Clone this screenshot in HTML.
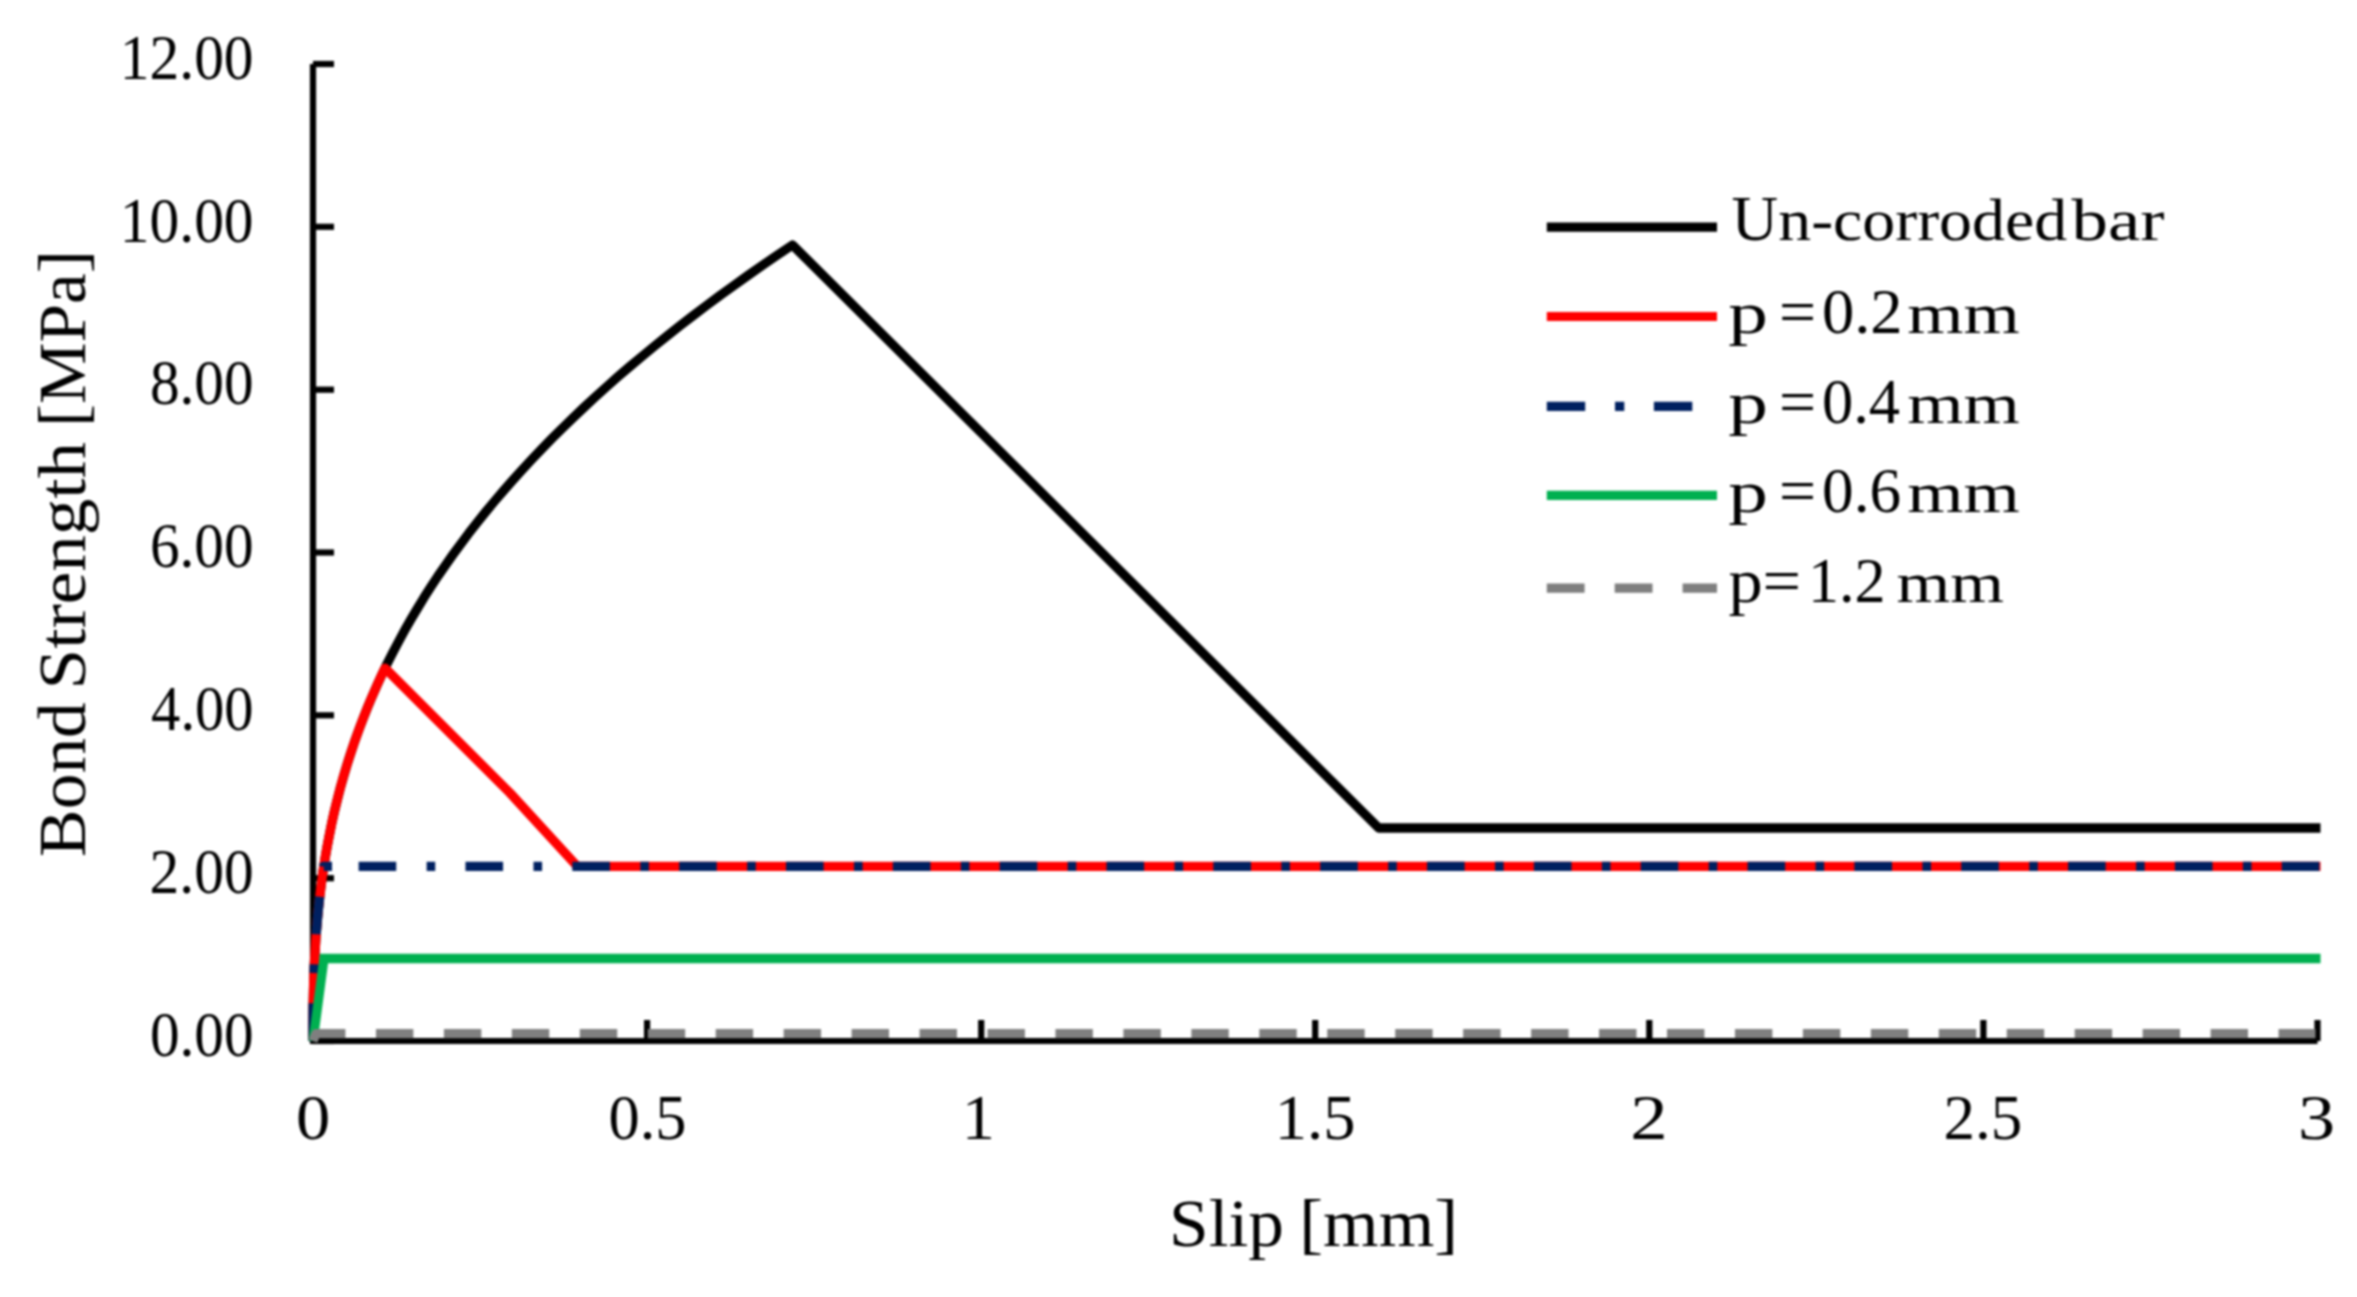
<!DOCTYPE html>
<html lang="en"><head><meta charset="utf-8"><title>Bond strength versus slip</title>
<style>html,body{margin:0;padding:0;background:#fff}svg{display:block;filter:blur(0.8px)}text{font-family:"Liberation Serif","DejaVu Serif",serif;fill:#000}</style>
</head><body>
<svg width="2357" height="1297" viewBox="0 0 2357 1297">
<rect width="2357" height="1297" fill="#fff"/>
<g stroke="#000" stroke-width="6.2" fill="none" stroke-linecap="butt">
<path d="M313.0,64.0 V1044.1"/>
<path d="M313.0,1041.0 H2317.5"/>
<path d="M313.0,1041.0 H334.0"/>
<path d="M313.0,878.2 H334.0"/>
<path d="M313.0,715.3 H334.0"/>
<path d="M313.0,552.5 H334.0"/>
<path d="M313.0,389.7 H334.0"/>
<path d="M313.0,226.8 H334.0"/>
<path d="M313.0,64.0 H334.0"/>
<path d="M647.1,1041.0 V1020.0"/>
<path d="M981.2,1041.0 V1020.0"/>
<path d="M1315.2,1041.0 V1020.0"/>
<path d="M1649.3,1041.0 V1020.0"/>
<path d="M1983.4,1041.0 V1020.0"/>
<path d="M2317.5,1041.0 V1020.0"/>
</g>
<g fill="none" stroke-width="9.3" stroke-linejoin="round" stroke-linecap="butt">
<path stroke="#000000" d="M313.0,1041.0 L313.0,1022.1 L313.2,1006.2 L313.5,991.2 L313.9,976.9 L314.4,963.0 L315.2,949.4 L316.0,936.1 L317.1,923.0 L318.3,910.1 L319.6,897.4 L321.2,884.8 L322.9,872.4 L324.8,860.1 L326.9,847.9 L329.2,835.8 L331.6,823.8 L334.3,811.9 L337.2,800.1 L340.2,788.3 L343.5,776.7 L346.9,765.1 L350.6,753.5 L354.4,742.1 L358.5,730.7 L362.8,719.3 L367.3,708.0 L372.0,696.8 L376.9,685.6 L382.0,674.4 L387.3,663.3 L392.9,652.3 L398.7,641.3 L404.7,630.3 L410.9,619.4 L417.4,608.5 L424.0,597.6 L430.9,586.8 L438.0,576.0 L445.4,565.3 L453.0,554.5 L460.8,543.9 L468.8,533.2 L477.1,522.6 L485.6,512.0 L494.4,501.4 L503.4,490.9 L512.6,480.4 L522.1,469.9 L531.8,459.4 L541.7,449.0 L551.9,438.6 L562.3,428.2 L573.0,417.8 L583.9,407.5 L595.1,397.2 L606.5,386.9 L618.1,376.6 L630.0,366.4 L642.2,356.2 L654.6,346.0 L667.2,335.8 L680.1,325.6 L693.3,315.5 L706.7,305.4 L720.3,295.2 L734.3,285.2 L748.4,275.1 L762.9,265.0 L777.5,255.0 L792.5,245.0 L1378.7,828.0 L2320.5,828.0"/>
<path stroke="#FF0000" d="M313.0,1041.0 L313.0,1026.5 L313.1,1014.3 L313.2,1002.8 L313.5,991.8 L313.7,981.2 L314.1,970.8 L314.6,960.6 L315.1,950.5 L315.7,940.6 L316.4,930.9 L317.2,921.3 L318.1,911.7 L319.1,902.3 L320.2,893.0 L321.3,883.7 L322.6,874.5 L324.0,865.4 L325.4,856.3 L327.0,847.3 L328.7,838.4 L330.5,829.5 L332.3,820.6 L334.3,811.8 L336.4,803.1 L338.6,794.4 L340.9,785.7 L343.3,777.1 L345.9,768.5 L348.5,760.0 L351.3,751.5 L354.1,743.0 L357.1,734.6 L360.2,726.2 L363.4,717.8 L366.7,709.4 L370.1,701.1 L373.7,692.8 L377.3,684.5 L381.1,676.3 L385.0,668.1 L510.0,793.0 L577.3,866.3 L2320.5,866.3"/>
<path stroke="#002060" stroke-dasharray="37.6 30.4 8.6 30.24" stroke-dashoffset="0.00" d="M313.0,1041.0 L313.0,1032.2 L313.0,1024.9 L313.1,1018.0 L313.1,1011.3 L313.2,1004.9 L313.3,998.6 L313.4,992.5 L313.6,986.4 L313.8,980.4 L314.0,974.6 L314.2,968.7 L314.4,963.0 L314.7,957.3 L315.0,951.7 L315.4,946.1 L315.7,940.5 L316.1,935.0 L316.5,929.5 L317.0,924.1 L317.4,918.7 L317.9,913.3 L318.5,908.0 L319.0,902.7 L319.6,897.4 L320.2,892.2 L320.9,887.0 L321.6,881.8 L322.3,876.6 L323.0,871.4 L323.8,866.3 L337.8,866.3"/>
<path stroke="#002060" stroke-dasharray="37.6 30.4 8.6 30.24" stroke-dashoffset="86.00" d="M337.8,866.3 L2320.5,866.3"/>
<path stroke="#00B050" stroke-linejoin="miter" d="M313.0,1041.0 L324.0,958.5 L2320.5,958.5"/>
<path stroke="#7F7F7F" stroke-dasharray="37.4 30.55" d="M313.0,1041.0 L316.0,1033.6 L2315.5,1033.6"/>
</g>
<g fill="none" stroke-width="9.2" stroke-linecap="butt">
<path stroke="#000000" d="M1546.8,227.1 H1717.0"/>
<path stroke="#FF0000" d="M1546.8,316.5 H1717.0"/>
<path stroke="#002060" stroke-dasharray="38.4 29.8 9.3 29.6" d="M1546.8,406.3 H1717.0"/>
<path stroke="#00B050" d="M1546.8,495.3 H1717.0"/>
<path stroke="#7F7F7F" stroke-dasharray="37.8 30.1" d="M1546.8,588.2 H1717.0"/>
</g>
<text y="1055.7" font-size="63.5"><tspan x="149.9" textLength="103.7" lengthAdjust="spacingAndGlyphs">0.00</tspan></text>
<text y="892.9" font-size="63.5"><tspan x="149.6" textLength="104.1" lengthAdjust="spacingAndGlyphs">2.00</tspan></text>
<text y="730.0" font-size="63.5"><tspan x="151.1" textLength="102.5" lengthAdjust="spacingAndGlyphs">4.00</tspan></text>
<text y="567.2" font-size="63.5"><tspan x="149.9" textLength="103.7" lengthAdjust="spacingAndGlyphs">6.00</tspan></text>
<text y="404.4" font-size="63.5"><tspan x="149.9" textLength="103.7" lengthAdjust="spacingAndGlyphs">8.00</tspan></text>
<text y="241.5" font-size="63.5"><tspan x="119.8" textLength="133.8" lengthAdjust="spacingAndGlyphs">10.00</tspan></text>
<text y="78.7" font-size="63.5"><tspan x="119.8" textLength="133.8" lengthAdjust="spacingAndGlyphs">12.00</tspan></text>
<text y="1139.2" font-size="63.5"><tspan x="296.0" textLength="34.3" lengthAdjust="spacingAndGlyphs">0</tspan></text>
<text y="1139.2" font-size="63.5"><tspan x="608.5" textLength="78.0" lengthAdjust="spacingAndGlyphs">0.5</tspan></text>
<text y="1139.2" font-size="63.5"><tspan x="961.7" textLength="33.2" lengthAdjust="spacingAndGlyphs">1</tspan></text>
<text y="1139.2" font-size="63.5"><tspan x="1274.8" textLength="80.6" lengthAdjust="spacingAndGlyphs">1.5</tspan></text>
<text y="1139.2" font-size="63.5"><tspan x="1630.2" textLength="37.4" lengthAdjust="spacingAndGlyphs">2</tspan></text>
<text y="1139.2" font-size="63.5"><tspan x="1943.4" textLength="78.8" lengthAdjust="spacingAndGlyphs">2.5</tspan></text>
<text y="1139.2" font-size="63.5"><tspan x="2297.9" textLength="37.1" lengthAdjust="spacingAndGlyphs">3</tspan></text>
<text y="1246.4" font-size="67"><tspan x="1169.0" textLength="115.0" lengthAdjust="spacingAndGlyphs">Slip</tspan> <tspan x="1299.3" textLength="158.9" lengthAdjust="spacingAndGlyphs">[mm]</tspan></text>
<text transform="translate(84.6,0) rotate(-90)" y="0" font-size="68.5"><tspan x="-856.9" textLength="154.7" lengthAdjust="spacingAndGlyphs">Bond</tspan> <tspan x="-689.4" textLength="247.5" lengthAdjust="spacingAndGlyphs">Strength</tspan> <tspan x="-427.1" textLength="177.0" lengthAdjust="spacingAndGlyphs">[MPa]</tspan></text>
<text y="240.0" font-size="63.5"><tspan x="1731.4" textLength="46.6" lengthAdjust="spacingAndGlyphs">U</tspan><tspan x="1778.2" font-size="59.5" textLength="289.0" lengthAdjust="spacingAndGlyphs">n-corroded</tspan> <tspan x="2071.5" font-size="59.5" textLength="93.0" lengthAdjust="spacingAndGlyphs">bar</tspan></text>
<text y="333.1" font-size="63.5"><tspan x="1728.3" font-size="60.0" textLength="39.7" lengthAdjust="spacingAndGlyphs">p</tspan> <tspan x="1779.1" textLength="37.1" lengthAdjust="spacingAndGlyphs">=</tspan> <tspan x="1821.9" textLength="80.8" lengthAdjust="spacingAndGlyphs">0.2</tspan> <tspan x="1907.3" font-size="58.0" textLength="112.6" lengthAdjust="spacingAndGlyphs">mm</tspan></text>
<text y="422.9" font-size="63.5"><tspan x="1728.3" font-size="60.0" textLength="39.7" lengthAdjust="spacingAndGlyphs">p</tspan> <tspan x="1779.1" textLength="37.1" lengthAdjust="spacingAndGlyphs">=</tspan> <tspan x="1822.0" textLength="78.1" lengthAdjust="spacingAndGlyphs">0.4</tspan> <tspan x="1907.3" font-size="58.0" textLength="112.6" lengthAdjust="spacingAndGlyphs">mm</tspan></text>
<text y="512.2" font-size="63.5"><tspan x="1728.3" font-size="60.0" textLength="39.7" lengthAdjust="spacingAndGlyphs">p</tspan> <tspan x="1779.1" textLength="37.1" lengthAdjust="spacingAndGlyphs">=</tspan> <tspan x="1822.0" textLength="79.1" lengthAdjust="spacingAndGlyphs">0.6</tspan> <tspan x="1907.3" font-size="58.0" textLength="112.6" lengthAdjust="spacingAndGlyphs">mm</tspan></text>
<text y="601.5" font-size="63.5"><tspan x="1728.4" textLength="72.7" lengthAdjust="spacingAndGlyphs">p=</tspan> <tspan x="1807.9" textLength="77.6" lengthAdjust="spacingAndGlyphs">1.2</tspan> <tspan x="1896.6" font-size="58.0" textLength="107.5" lengthAdjust="spacingAndGlyphs">mm</tspan></text>
</svg>
</body></html>
